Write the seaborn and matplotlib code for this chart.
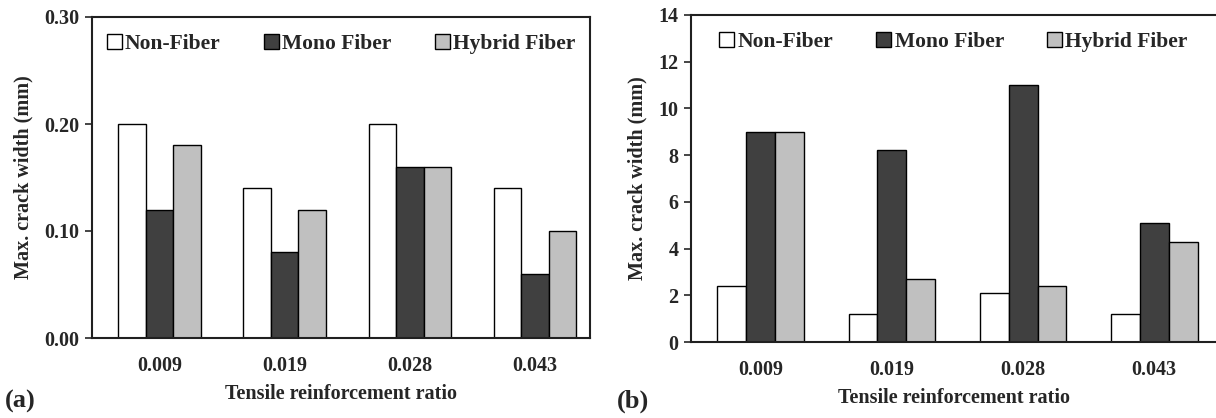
import matplotlib
matplotlib.use("Agg")
import matplotlib.pyplot as plt
import pandas as pd
import seaborn as sns

# 数据：拉伸配筋率与最大裂缝宽度
ratios = ["0.009", "0.019", "0.028", "0.043"]
groups = ["Non-Fiber", "Mono Fiber", "Hybrid Fiber"]

# (a) 面板
a_non = [0.20, 0.14, 0.20, 0.14]
a_mono = [0.12, 0.08, 0.16, 0.06]
a_hybrid = [0.18, 0.12, 0.16, 0.10]

# (b) 面板
b_non = [2.4, 1.2, 2.1, 1.2]
b_mono = [9.0, 8.2, 11.0, 5.1]
b_hybrid = [9.0, 2.7, 2.4, 4.3]

colors = ["#ffffff", "#404040", "#c0c0c0"]

sns.set_style("ticks")
plt.rcParams['font.family'] = ['Liberation Serif', 'DejaVu Serif']
plt.rcParams['font.weight'] = 'bold'


def to_long(non, mono, hybrid):
    rows = []
    for g, vals in zip(groups, [non, mono, hybrid]):
        for r, v in zip(ratios, vals):
            rows.append({"ratio": r, "type": g, "width": v})
    return pd.DataFrame(rows)


def draw(ax, df, ymax, ystep, fmt, xlim, right_spine=True):
    sns.barplot(data=df, x="ratio", y="width", hue="type", order=ratios,
                hue_order=groups, palette=colors, width=0.66, gap=0,
                edgecolor="black", linewidth=1.0, saturation=1, ax=ax)
    ax.set_ylim(0, ymax)
    ax.set_xlim(*xlim)
    ticks = [i * ystep for i in range(int(round(ymax / ystep)) + 1)]
    ax.set_yticks(ticks)
    ax.set_yticklabels([fmt.format(t) for t in ticks])
    ax.tick_params(axis='y', direction='out', length=5, width=1.2, labelsize=14.5, pad=4)
    ax.tick_params(axis='x', length=0, labelsize=14.5, pad=13)
    for lab in ax.get_xticklabels() + ax.get_yticklabels():
        lab.set_fontweight('bold')
    ax.set_xlabel("Tensile reinforcement ratio", fontsize=14.5, fontweight='bold', labelpad=6)
    ax.set_ylabel("Max. crack width (mm)", fontsize=14.5, fontweight='bold', labelpad=8)
    for s in ax.spines.values():
        s.set_linewidth(1.5)
        s.set_color("#202020")
    ax.spines['right'].set_visible(right_spine)
    leg = ax.legend(loc="upper center", ncol=3, frameon=False, fontsize=15.5,
                    handlelength=0.7, handleheight=0.7, handletextpad=0.15,
                    columnspacing=2.0, bbox_to_anchor=(0.5, 1.0), borderaxespad=0.4)
    for t in leg.get_texts():
        t.set_fontweight('bold')


fig = plt.figure(figsize=(12.16, 4.18), dpi=100)
ax1 = fig.add_axes([92 / 1216, (418 - 338) / 418, (590 - 92) / 1216, (338 - 17) / 418])
ax2 = fig.add_axes([691 / 1216, (418 - 342) / 418, (1216 - 691) / 1216, (342 - 15) / 418])

draw(ax1, to_long(a_non, a_mono, a_hybrid), 0.30, 0.10, "{:.2f}", (-0.54, 3.44))
draw(ax2, to_long(b_non, b_mono, b_hybrid), 14, 2, "{:.0f}", (-0.53, 3.47), right_spine=False)

fig.text(5 / 1216, 1 - 401 / 418, "(a)", fontsize=19, fontweight='bold', va='center')
fig.text(617 / 1216, 1 - 401 / 418, "(b)", fontsize=19, fontweight='bold', va='center')

fig.savefig("out.png", dpi=100)
